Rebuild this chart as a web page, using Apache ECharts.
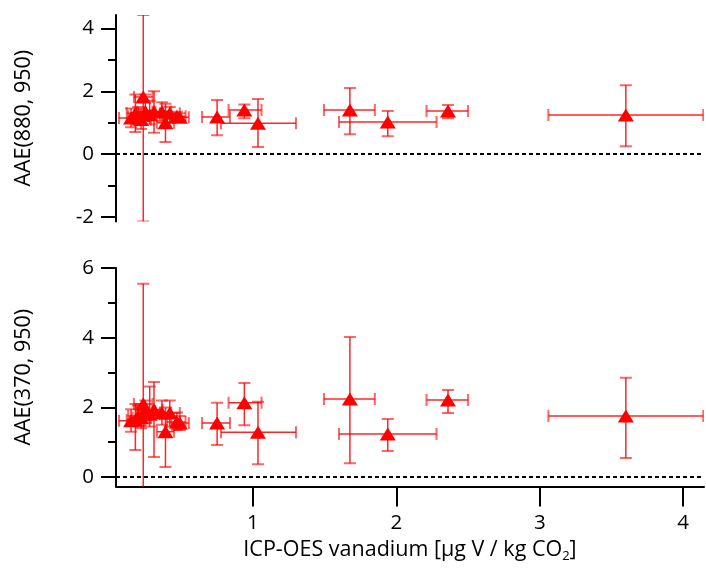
<!DOCTYPE html>
<html>
<head>
<meta charset="utf-8">
<script src="https://cdn.jsdelivr.net/npm/echarts@6/dist/echarts.min.js"></script>
<style>
  html, body { margin: 0; padding: 0; background: #fff; }
  #main { width: 706px; height: 581px; }
</style>
</head>
<body>
<div id="main"></div>
<script>
// vanadium (x) with its error range, same for both panels
var vX   = [0.15, 0.18, 0.20, 0.22, 0.235, 0.25, 0.28, 0.31, 0.365, 0.39, 0.42, 0.47, 0.49, 0.75, 0.94, 1.035, 1.676, 1.94, 2.36, 3.60]
var vXlo = [0.066, 0.12, 0.13, 0.16, 0.17, 0.19, 0.21, 0.25, 0.30, 0.33, 0.35, 0.40, 0.43, 0.645, 0.83, 0.777, 1.495, 1.60, 2.21, 3.06]
var vXhi = [0.24, 0.25, 0.27, 0.29, 0.30, 0.32, 0.35, 0.37, 0.43, 0.45, 0.49, 0.53, 0.553, 0.84, 1.06, 1.30, 1.85, 2.28, 2.50, 4.14]

// AAE(880, 950)
var aaeTop   = [1.15, 1.30, 1.20, 1.10, 1.82, 1.35, 1.25, 1.35, 1.35, 1.00, 1.30, 1.20, 1.17, 1.18, 1.40, 0.98, 1.40, 1.02, 1.37, 1.24]
var aaeTopLo = [0.85, 0.70, 0.95, 0.80, -2.15, 1.05, 0.95, 0.68, 1.05, 0.38, 1.00, 1.05, 1.05, 0.60, 1.14, 0.22, 0.63, 0.57, 1.14, 0.25]
var aaeTopHi = [1.45, 1.90, 1.50, 1.45, 4.43, 1.90, 1.70, 2.00, 1.65, 1.60, 1.50, 1.35, 1.30, 1.72, 1.58, 1.75, 2.10, 1.37, 1.56, 2.19]

// AAE(370, 950)
var aaeBot   = [1.62, 1.64, 1.75, 1.70, 2.10, 1.90, 1.80, 1.93, 1.84, 1.30, 1.84, 1.58, 1.55, 1.55, 2.13, 1.29, 2.24, 1.24, 2.21, 1.75]
var aaeBotLo = [1.30, 0.78, 1.45, 1.40, -0.30, 1.55, 1.45, 0.58, 1.50, 0.29, 1.45, 1.35, 1.35, 0.92, 1.49, 0.37, 0.40, 0.75, 1.84, 0.55]
var aaeBotHi = [1.95, 2.10, 2.05, 2.00, 5.55, 2.20, 2.60, 2.73, 2.20, 2.00, 2.20, 1.85, 1.75, 2.13, 2.70, 2.16, 4.02, 1.67, 2.50, 2.85]

var xTicks = [1, 2, 3, 4]
var topTicks = [-2, 0, 2, 4]
var topMinor = [-1, 1, 3]
var botTicks = [0, 2, 4, 6]
var botMinor = [1, 3, 5]

var font = 'Open Sans'
var red = '#ff0000'

function rows (y, lo, hi) {
  return vX.map((v, i) => [v, y[i], lo[i], hi[i], vXlo[i], vXhi[i]])
}

// 误差棒
function errRender (params, api) {
  var x = api.value(0), y = api.value(1)
  var c = api.coord([x, y])
  var lo = api.coord([x, api.value(2)])
  var hi = api.coord([x, api.value(3)])
  var xl = api.coord([api.value(4), y])
  var xh = api.coord([api.value(5), y])
  var cap = 6
  var line = { stroke: 'rgba(255,0,0,0.85)', lineWidth: 1.5 }
  var capSt = { stroke: 'rgba(255,0,0,0.6)', lineWidth: 2 }
  return {
    type: 'group',
    children: [
      { type: 'line', shape: { x1: c[0], y1: lo[1], x2: c[0], y2: hi[1] }, style: line },
      { type: 'line', shape: { x1: xl[0], y1: c[1], x2: xh[0], y2: c[1] }, style: line },
      { type: 'line', shape: { x1: c[0] - cap, y1: lo[1], x2: c[0] + cap, y2: lo[1] }, style: capSt },
      { type: 'line', shape: { x1: c[0] - cap, y1: hi[1], x2: c[0] + cap, y2: hi[1] }, style: capSt },
      { type: 'line', shape: { x1: xl[0], y1: c[1] - cap, x2: xl[0], y2: c[1] + cap }, style: capSt },
      { type: 'line', shape: { x1: xh[0], y1: c[1] - cap, x2: xh[0], y2: c[1] + cap }, style: capSt }
    ]
  }
}

function yMajor (idx, min, max, ticks, name) {
  return {
    type: 'value', gridIndex: idx, min: min, max: max, position: 'left',
    name: name, nameLocation: 'middle', nameGap: 81, nameRotate: 90,
    nameTextStyle: { color: '#000', fontFamily: font, fontSize: 21.5 },
    axisLine: { show: true, onZero: false, lineStyle: { color: '#000', width: 2 } },
    axisTick: { show: true, inside: false, length: 15, customValues: ticks, lineStyle: { color: '#000', width: 2 } },
    axisLabel: { show: true, margin: 22, customValues: ticks, color: '#000', fontFamily: font, fontSize: 20.5 },
    splitLine: { show: false }
  }
}

function yMinor (idx, min, max, ticks) {
  return {
    type: 'value', gridIndex: idx, min: min, max: max, position: 'left',
    axisLine: { show: false },
    axisTick: { show: true, inside: false, length: 8, customValues: ticks, lineStyle: { color: '#000', width: 2 } },
    axisLabel: { show: false },
    splitLine: { show: false }
  }
}

function zeroLine () {
  return {
    silent: true, symbol: 'none', label: { show: false },
    lineStyle: { color: '#000', type: [4, 3], width: 2 },
    data: [{ yAxis: 0 }]
  }
}

var myChart = echarts.init(document.getElementById('main'), null, { renderer: 'canvas' })
var option = {
  animation: false,
  backgroundColor: '#fff',
  grid: [
    { left: 116, top: 15, width: 588, height: 206.5 },
    { left: 116, top: 268, width: 588, height: 218.5 }
  ],
  xAxis: [
    {
      type: 'value', gridIndex: 0, min: 0.045, max: 4.145,
      axisLine: { show: false }, axisTick: { show: false }, axisLabel: { show: false }, splitLine: { show: false }
    },
    {
      type: 'value', gridIndex: 1, min: 0.045, max: 4.145,
      name: '{a|ICP-OES vanadium [µg V / kg CO}{s|2}{a|]}',
      nameLocation: 'middle', nameGap: 50,
      nameTextStyle: {
        rich: {
          a: { color: '#000', fontFamily: font, fontSize: 21.5 },
          s: { color: '#000', fontFamily: font, fontSize: 13, padding: [13, 0, 0, 0] }
        }
      },
      axisLine: { show: true, onZero: false, lineStyle: { color: '#000', width: 2 } },
      axisTick: { show: true, length: 20, customValues: xTicks, lineStyle: { color: '#000', width: 2 } },
      axisLabel: { show: true, margin: 26, customValues: xTicks, color: '#000', fontFamily: font, fontSize: 20.5 },
      splitLine: { show: false }
    }
  ],
  yAxis: [
    yMajor(0, -2.15, 4.43, topTicks, 'AAE(880, 950)'),
    yMinor(0, -2.15, 4.43, topMinor),
    yMajor(1, -0.27, 6, botTicks, 'AAE(370, 950)'),
    yMinor(1, -0.27, 6, botMinor)
  ],
  series: [
    {
      type: 'custom', xAxisIndex: 0, yAxisIndex: 0, clip: true,
      renderItem: errRender, data: rows(aaeTop, aaeTopLo, aaeTopHi),
      markLine: zeroLine(), z: 2
    },
    {
      type: 'scatter', xAxisIndex: 0, yAxisIndex: 0,
      symbol: 'triangle', symbolSize: [16, 13],
      itemStyle: { color: red, opacity: 1 },
      data: vX.map((v, i) => [v, aaeTop[i]]), z: 3
    },
    {
      type: 'custom', xAxisIndex: 1, yAxisIndex: 2, clip: true,
      renderItem: errRender, data: rows(aaeBot, aaeBotLo, aaeBotHi),
      markLine: zeroLine(), z: 2
    },
    {
      type: 'scatter', xAxisIndex: 1, yAxisIndex: 2,
      symbol: 'triangle', symbolSize: [16, 13],
      itemStyle: { color: red, opacity: 1 },
      data: vX.map((v, i) => [v, aaeBot[i]]), z: 3
    }
  ]
}
myChart.setOption(option)
</script>
</body>
</html>
